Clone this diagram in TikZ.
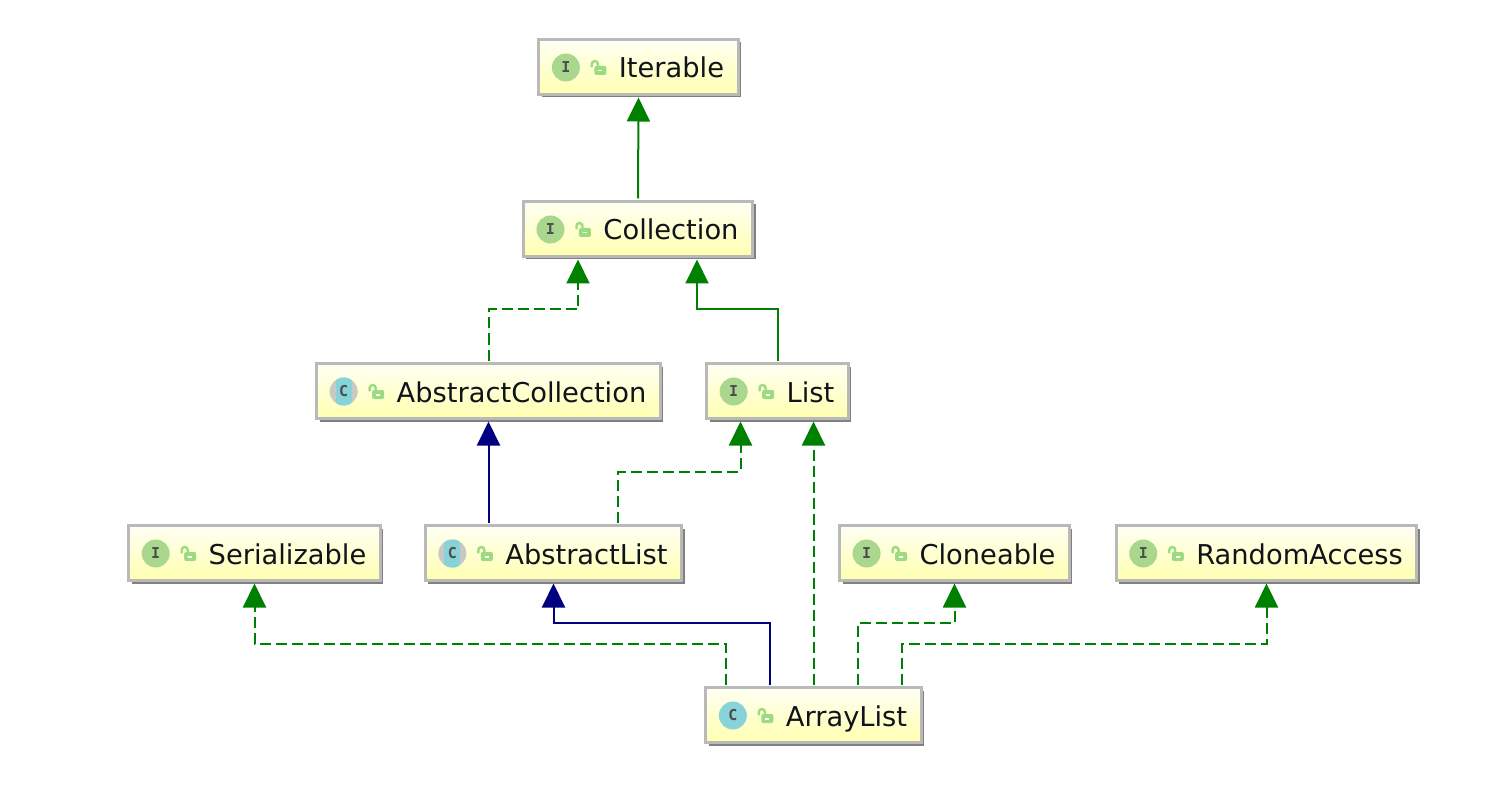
\documentclass[tikz,border=0pt]{standalone}
\usepackage{fontspec}
\setmainfont{DejaVu Sans}
\newfontfamily\iconfont{DejaVu Sans Mono}
\usepackage{tikz}
\usetikzlibrary{calc,shadows,arrows.meta}
\definecolor{m_border}{HTML}{B9B9B9}
\definecolor{m_shadow}{HTML}{808080}
\definecolor{m_top}{HTML}{FFFFF4}
\definecolor{m_bottom}{HTML}{FFFFB0}
\definecolor{m_green}{HTML}{008000}
\definecolor{m_navy}{HTML}{000080}
\definecolor{m_iface}{HTML}{AAD78E}
\definecolor{m_class}{HTML}{88D3DA}
\definecolor{m_grey}{HTML}{C9C9C4}
\definecolor{m_lock}{HTML}{9DDB80}
\definecolor{m_text}{HTML}{101418}

\begin{document}
\begin{tikzpicture}[
    x=0.5pt,y=-0.5pt,
    classbox/.style={draw=m_border,line width=1.5pt,top color=m_top,bottom color=m_bottom,
        drop shadow={shadow xshift=1.5pt,shadow yshift=-1.5pt,fill=m_shadow,opacity=1},
        minimum height=27.5pt,inner xsep=7pt,inner ysep=0pt,outer ysep=1.5pt,text=m_text,
        text height=11pt,text depth=0pt,
        font=\fontsize{13.65pt}{16pt}\selectfont,
        execute at begin node={\hspace*{33pt}}},
    iconletter/.style={text=black!70,font=\iconfont\bfseries\fontsize{7.5pt}{9pt}\selectfont,inner sep=0pt},
    extends/.style={m_green,line width=1pt,-{Triangle[length=12pt,width=11.5pt]}},
    implements/.style={extends,dash pattern=on 5.5pt off 2.5pt},
    subclass/.style={extends,m_navy},
    lockicon/.pic={
        \draw[m_lock,line width=1.2pt,line cap=round] (-2.5,-0.5) -- (-2.5,-3) arc[start angle=180,end angle=360,radius=3] -- (3.5,-1);
        \fill[m_lock,rounded corners=1pt] (0,-1) rectangle (12,8);
        \fill[white] (4,3) rectangle (8,4.5);
    }
]
    \useasboundingbox (0,0) rectangle (1510,786);

    \node[classbox] (iterable) at (638.5,67) {Iterable};
    \node[classbox] (collection) at (638,229) {Collection};
    \node[classbox] (abscollection) at (488.5,391) {AbstractCollection};
    \node[classbox] (list) at (777.5,391) {List};
    \node[classbox] (serializable) at (254.5,553) {Serializable};
    \node[classbox] (abslist) at (553.5,553) {AbstractList};
    \node[classbox] (cloneable) at (954.5,553) {Cloneable};
    \node[classbox] (randomaccess) at (1266.5,553) {RandomAccess};
    \node[classbox] (arraylist) at (813.5,715) {ArrayList};

    % class and interface icons
    \foreach \n in {iterable,collection,list,serializable,cloneable,randomaccess} {
        \fill[m_iface] ($(\n.west)+(28.5,0.5)$) circle[radius=14];
        \node[iconletter] (\n letter) at ($(\n.west)+(28.5,0.5)$) {I};
    }
    \fill[m_class] ($(arraylist.west)+(28.5,0.5)$) circle[radius=14];
    \node[iconletter] (arrayletter) at ($(arraylist.west)+(28.5,0.5)$) {C};
    \foreach \n in {abscollection,abslist} {
        \fill[m_grey] ($(\n.west)+(28.5,0.5)$) circle[radius=14];
        \begin{scope}
            \clip ($(\n.west)+(28.5,0.5)$) circle[radius=14];
            \fill[m_class] ($(\n.west)+(20.5,-14)$) rectangle ($(\n.west)+(36.5,15)$);
        \end{scope}
        \node[iconletter] (\n letter) at ($(\n.west)+(28.5,0.5)$) {C};
    }
    \foreach \n in {iterable,collection,abscollection,list,serializable,abslist,cloneable,randomaccess,arraylist}
        \pic at ($(\n.west)+(57,0)$) {lockicon};

    \draw[extends] (collection.north) -- (iterable.south);
    \draw[implements] (abscollection.north) -- ++(0,-51) -| ($(collection.south)+(-60,0)$);
    \draw[extends] (list.north) -- ++(0,-51) -| ($(collection.south)+(59,0)$);
    \draw[subclass] (abslist.north -| abscollection.south) -- (abscollection.south);
    \draw[implements] ($(abslist.north)+(64.5,0)$) -- ++(0,-51) -| ($(list.south)+(-37,0)$);
    \draw[implements] (arraylist.north) -- (list.south -| arraylist.north);
    \draw[implements] ($(arraylist.north)+(-88,0)$) -- ++(0,-41) -| (serializable.south);
    \draw[subclass] ($(arraylist.north)+(-44,0)$) -- ++(0,-62) -| (abslist.south);
    \draw[implements] ($(arraylist.north)+(44,0)$) -- ++(0,-62) -| (cloneable.south);
    \draw[implements] ($(arraylist.north)+(88,0)$) -- ++(0,-41) -| (randomaccess.south);
\end{tikzpicture}
\end{document}
